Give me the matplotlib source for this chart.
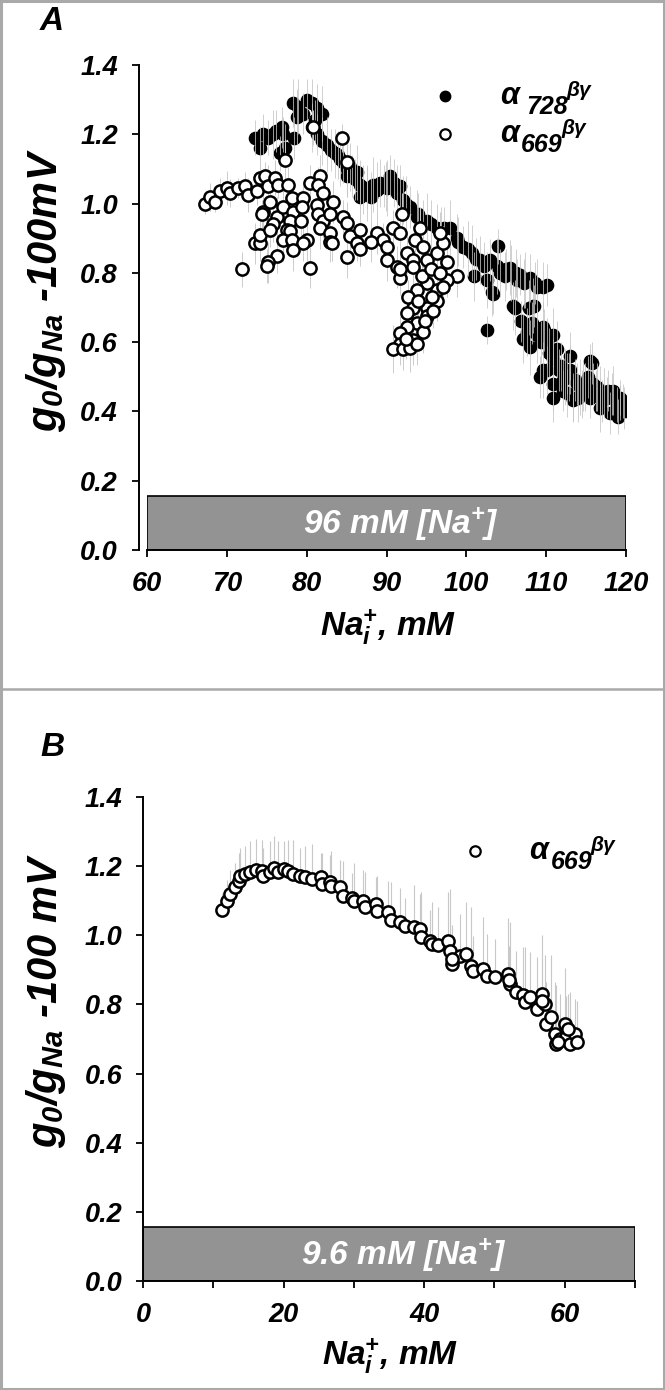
import matplotlib
matplotlib.use("Agg")
import matplotlib.pyplot as plt
from matplotlib.patches import Rectangle
from matplotlib.lines import Line2D

# ---- panel A data (96 mM external Na+) ----
a728_x = [73.5, 74.5, 75.2, 75.8, 76.9, 77.0, 74.2, 76.7, 77.3, 78.4,
          78.3, 78.9, 80.0, 80.7, 78.8, 79.5, 81.3, 81.9, 81.0, 80.7,
          81.3, 81.9, 82.6, 83.0, 83.6, 84.2, 84.6, 85.4, 86.3, 85.7,
          86.7, 87.6, 88.3, 89.2, 90.5, 90.1, 88.0, 86.7, 91.3, 92.1,
          93.0, 93.8, 94.6, 85.1, 87.6, 89.9, 91.7, 95.1, 96.3, 97.2,
          98.0, 98.8, 99.6, 100.7, 101.7, 103.0, 104.0, 100.9, 102.6, 103.4,
          104.2, 105.5, 106.7, 108.0, 108.9, 110.1, 102.6, 105.9, 108.4, 108.2,
          107.1, 108.0, 109.7, 110.1, 111.4, 109.2, 110.1, 110.9, 112.1, 113.0,
          115.5, 110.9, 112.1, 113.4, 114.3, 115.9, 116.8, 117.6, 118.4, 119.3,
          119.0, 118.0, 116.8, 115.5, 120.1, 103.2, 106.1, 108.5, 109.6, 110.9,
          112.6, 113.0, 115.7, 109.6, 112.6, 113.4, 114.5, 117.0, 118.9, 96.8,
          83.9, 85.0, 86.0, 87.0, 88.8, 89.7, 91.0, 92.5, 94.0, 95.6,
          99.0, 100.2, 101.2, 102.2, 103.8, 105.0, 106.2, 107.4, 108.6, 109.6,
          111.6, 112.8, 113.8, 114.9, 116.2, 117.2, 118.2, 119.2, 119.8, 114.0,
          104.8, 105.6, 106.4, 107.2, 107.8, 106.8, 107.6, 108.8, 109.4, 110.4,
          110.8, 111.8, 112.4, 113.6, 114.6, 115.2, 116.4, 117.8, 119.6, 76.2]
a728_y = [1.19, 1.20, 1.19, 1.20, 1.22, 1.20, 1.16, 1.145, 1.16, 1.19,
          1.29, 1.28, 1.30, 1.29, 1.25, 1.26, 1.275, 1.26, 1.24, 1.22,
          1.20, 1.18, 1.17, 1.155, 1.145, 1.13, 1.12, 1.105, 1.09, 1.08,
          1.055, 1.045, 1.055, 1.06, 1.08, 1.045, 1.02, 1.02, 1.03, 1.01,
          0.99, 0.96, 0.94, 1.08, 1.03, 1.05, 1.05, 0.95, 0.93, 0.93,
          0.93, 0.90, 0.875, 0.857, 0.837, 0.837, 0.877, 0.79, 0.78, 0.74,
          0.80, 0.815, 0.795, 0.785, 0.76, 0.765, 0.635, 0.705, 0.705, 0.655,
          0.61, 0.585, 0.635, 0.60, 0.58, 0.50, 0.52, 0.48, 0.49, 0.52,
          0.545, 0.44, 0.46, 0.44, 0.47, 0.48, 0.46, 0.44, 0.46, 0.425,
          0.385, 0.395, 0.41, 0.44, 0.40, 0.745, 0.70, 0.705, 0.645, 0.62,
          0.51, 0.56, 0.54, 0.52, 0.453, 0.433, 0.45, 0.43, 0.42, 0.92,
          1.14, 1.10, 1.07, 1.04, 1.04, 1.05, 1.06, 1.00, 0.97, 0.94,
          0.89, 0.87, 0.84, 0.82, 0.82, 0.81, 0.80, 0.78, 0.77, 0.76,
          0.52, 0.50, 0.48, 0.47, 0.46, 0.455, 0.45, 0.44, 0.41, 0.44,
          0.79, 0.80, 0.78, 0.77, 0.70, 0.66, 0.63, 0.62, 0.60, 0.57,
          0.55, 0.53, 0.50, 0.49, 0.47, 0.50, 0.47, 0.46, 0.43, 1.21]
a728_err = [0.05, 0.06, 0.05, 0.07, 0.06, 0.05, 0.06, 0.05, 0.07, 0.06,
            0.07, 0.08, 0.06, 0.07, 0.08, 0.06, 0.07, 0.08, 0.06, 0.07,
            0.06, 0.07, 0.08, 0.06, 0.07, 0.08, 0.06, 0.07, 0.08, 0.06,
            0.07, 0.06, 0.08, 0.07, 0.06, 0.08, 0.07, 0.06, 0.08, 0.07,
            0.06, 0.08, 0.07, 0.06, 0.08, 0.07, 0.06, 0.08, 0.07, 0.06,
            0.08, 0.07, 0.06, 0.08, 0.07, 0.06, 0.05, 0.07, 0.08, 0.06,
            0.07, 0.08, 0.06, 0.07, 0.08, 0.06, 0.04, 0.07, 0.08, 0.06,
            0.07, 0.08, 0.06, 0.07, 0.08, 0.06, 0.07, 0.08, 0.06, 0.07,
            0.05, 0.07, 0.06, 0.07, 0.08, 0.06, 0.07, 0.06, 0.07, 0.05,
            0.05, 0.06, 0.07, 0.06, 0.05, 0.07, 0.08, 0.06, 0.07, 0.08,
            0.06, 0.07, 0.06, 0.08, 0.07, 0.06, 0.07, 0.06, 0.05, 0.07,
            0.07, 0.08, 0.06, 0.07, 0.08, 0.06, 0.07, 0.08, 0.06, 0.07,
            0.07, 0.08, 0.06, 0.07, 0.08, 0.06, 0.07, 0.08, 0.06, 0.07,
            0.06, 0.07, 0.06, 0.07, 0.06, 0.07, 0.06, 0.05, 0.06, 0.07,
            0.07, 0.08, 0.06, 0.07, 0.08, 0.06, 0.07, 0.08, 0.06, 0.07,
            0.06, 0.07, 0.08, 0.06, 0.07, 0.06, 0.07, 0.06, 0.05, 0.06]

a669_x = [67.3, 67.9, 68.5, 69.1, 70.0, 70.4, 71.4, 72.3, 72.7, 73.8,
          74.2, 74.8, 75.2, 76.0, 76.4, 77.7, 74.5, 75.4, 74.4, 76.3,
          75.8, 77.0, 78.2, 79.5, 78.3, 79.4, 77.9, 79.3, 77.5, 77.9,
          77.0, 78.2, 80.0, 79.5, 73.5, 74.2, 74.2, 75.4, 78.3, 76.3,
          75.2, 75.0, 80.4, 71.9, 80.4, 81.7, 81.4, 82.0, 80.8, 84.4,
          85.0, 77.3, 81.3, 81.4, 82.0, 83.3, 82.9, 81.7, 82.9, 82.9,
          84.6, 85.0, 85.4, 86.7, 86.3, 85.0, 86.7, 88.8, 89.6, 90.1,
          90.8, 91.9, 91.7, 91.3, 91.7, 92.6, 93.3, 94.2, 93.6, 94.6,
          83.2, 90.1, 91.7, 93.3, 95.1, 96.3, 97.1, 96.7, 97.6, 98.8,
          97.6, 96.3, 95.1, 93.8, 92.7, 96.3, 95.1, 93.3, 92.6, 95.1,
          93.8, 92.6, 91.7, 94.6, 93.3, 91.7, 90.8, 92.1, 93.0, 93.8,
          95.8, 95.7, 97.1, 94.4, 95.6, 94.0, 94.8, 92.4, 96.7, 88.0]
a669_y = [1.00, 1.02, 1.005, 1.035, 1.045, 1.03, 1.045, 1.05, 1.025, 1.035,
          1.075, 1.08, 1.05, 1.075, 1.055, 1.055, 0.975, 1.005, 0.97, 0.96,
          0.94, 0.99, 1.015, 1.015, 0.975, 0.99, 0.95, 0.95, 0.925, 0.92,
          0.895, 0.895, 0.895, 0.885, 0.885, 0.885, 0.91, 0.925, 0.865, 0.85,
          0.83, 0.82, 0.815, 0.81, 1.06, 1.08, 1.055, 1.03, 1.22, 1.19,
          1.12, 1.125, 0.995, 0.97, 0.95, 1.005, 0.97, 0.93, 0.915, 0.89,
          0.96, 0.945, 0.905, 0.925, 0.885, 0.845, 0.87, 0.915, 0.895, 0.837,
          0.93, 0.97, 0.915, 0.817, 0.785, 0.857, 0.837, 0.93, 0.895, 0.875,
          0.885, 0.875, 0.81, 0.817, 0.837, 0.857, 0.885, 0.915, 0.83, 0.79,
          0.78, 0.75, 0.77, 0.75, 0.73, 0.72, 0.70, 0.70, 0.685, 0.675,
          0.655, 0.645, 0.625, 0.63, 0.605, 0.595, 0.58, 0.58, 0.583, 0.595,
          0.69, 0.73, 0.76, 0.79, 0.81, 0.72, 0.66, 0.61, 0.80, 0.89]
a669_err = [0.03, 0.04, 0.03, 0.04, 0.05, 0.04, 0.03, 0.04, 0.05, 0.04,
            0.05, 0.04, 0.06, 0.05, 0.04, 0.05, 0.06, 0.05, 0.04, 0.06,
            0.05, 0.06, 0.05, 0.04, 0.06, 0.05, 0.06, 0.05, 0.06, 0.05,
            0.06, 0.05, 0.06, 0.05, 0.06, 0.05, 0.06, 0.05, 0.06, 0.05,
            0.06, 0.05, 0.06, 0.05, 0.05, 0.06, 0.05, 0.06, 0.05, 0.04,
            0.05, 0.06, 0.05, 0.06, 0.05, 0.06, 0.05, 0.06, 0.05, 0.06,
            0.05, 0.06, 0.05, 0.06, 0.05, 0.06, 0.05, 0.06, 0.05, 0.06,
            0.05, 0.06, 0.05, 0.06, 0.05, 0.06, 0.05, 0.06, 0.05, 0.06,
            0.05, 0.06, 0.05, 0.06, 0.05, 0.06, 0.05, 0.06, 0.05, 0.06,
            0.05, 0.06, 0.05, 0.06, 0.05, 0.06, 0.05, 0.06, 0.05, 0.06,
            0.05, 0.06, 0.05, 0.06, 0.07, 0.06, 0.07, 0.06, 0.07, 0.06,
            0.05, 0.06, 0.05, 0.06, 0.05, 0.06, 0.05, 0.06, 0.05, 0.06]

# ---- panel B data (9.6 mM external Na+) ----
b669_x = [11.3, 11.9, 12.4, 13.1, 13.6, 13.8, 14.5, 15.2, 16.1, 16.9,
          17.1, 18.1, 18.6, 19.2, 20.1, 20.6, 21.3, 22.3, 23.0, 24.0,
          25.3, 25.4, 26.6, 26.8, 28.0, 28.5, 29.7, 30.0, 31.3, 31.6,
          33.2, 33.3, 34.9, 35.3, 36.6, 37.3, 38.5, 39.4, 39.6, 40.8,
          41.1, 42.0, 43.4, 43.7, 43.9, 45.1, 46.0, 46.7, 47.0, 48.4,
          48.9, 50.1, 52.0, 52.2, 53.1, 54.1, 54.3, 55.1, 56.0, 56.7,
          57.2, 57.3, 58.1, 58.6, 58.8, 59.3, 60.0, 60.2, 60.7, 61.5,
          61.7, 44.0, 52.1, 56.8, 59.0, 60.5]
b669_y = [1.073, 1.10, 1.12, 1.14, 1.158, 1.172, 1.177, 1.182, 1.189, 1.187,
          1.172, 1.182, 1.196, 1.182, 1.192, 1.185, 1.177, 1.172, 1.168, 1.163,
          1.169, 1.148, 1.153, 1.143, 1.139, 1.114, 1.109, 1.10, 1.10, 1.082,
          1.09, 1.071, 1.066, 1.044, 1.038, 1.028, 1.025, 1.018, 0.994, 0.984,
          0.975, 0.973, 0.984, 0.955, 0.917, 0.941, 0.946, 0.912, 0.898, 0.903,
          0.883, 0.879, 0.889, 0.859, 0.835, 0.826, 0.806, 0.821, 0.787, 0.831,
          0.802, 0.744, 0.763, 0.715, 0.686, 0.701, 0.744, 0.705, 0.686, 0.715,
          0.691, 0.93, 0.87, 0.81, 0.69, 0.73]
b669_err = [0.05, 0.06, 0.07, 0.07, 0.08, 0.08, 0.08, 0.09, 0.09, 0.09,
            0.08, 0.09, 0.09, 0.09, 0.08, 0.09, 0.10, 0.08, 0.09, 0.10,
            0.07, 0.09, 0.08, 0.10, 0.08, 0.10, 0.07, 0.11, 0.09, 0.10,
            0.08, 0.10, 0.09, 0.11, 0.10, 0.08, 0.12, 0.10, 0.13, 0.09,
            0.12, 0.11, 0.14, 0.18, 0.10, 0.12, 0.15, 0.17, 0.10, 0.15,
            0.12, 0.11, 0.16, 0.18, 0.12, 0.14, 0.16, 0.13, 0.15, 0.17,
            0.14, 0.12, 0.18, 0.15, 0.17, 0.13, 0.16, 0.12, 0.15, 0.10,
            0.12, 0.10, 0.10, 0.12, 0.08, 0.10]

a_xticks = [60, 70, 80, 90, 100, 110, 120]
b_xticks = [0, 10, 20, 30, 40, 50, 60, 70]
b_xticklabels = ['0', '', '20', '', '40', '', '60', '']
yticks = [0.0, 0.2, 0.4, 0.6, 0.8, 1.0, 1.2, 1.4]
band_a = (60, 120, 0.155)
band_b = (0, 70, 0.155)

plt.rcParams['font.family'] = 'Liberation Sans'
plt.rcParams['font.weight'] = 'bold'
plt.rcParams['font.style'] = 'italic'
plt.rcParams['mathtext.fontset'] = 'custom'
plt.rcParams['mathtext.rm'] = 'Liberation Sans:bold:italic'
plt.rcParams['mathtext.it'] = 'Liberation Sans:italic'
plt.rcParams['mathtext.bf'] = 'Liberation Sans:bold'
plt.rcParams['mathtext.bfit'] = 'Liberation Sans:bold:italic'

fig = plt.figure(figsize=(6.65, 13.9), dpi=100)
W, H = 665, 1390
MS = 8.8


def px_axes(x0, x1, y_top, y_bot):
    return fig.add_axes([x0 / W, 1 - y_bot / H, (x1 - x0) / W, (y_bot - y_top) / H])


def style_axes(ax, xlim, xticks, xlabels, offset):
    ax.set_xlim(*xlim)
    ax.set_ylim(0, 1.4)
    for s in ['top', 'right']:
        ax.spines[s].set_visible(False)
    ax.spines['left'].set_linewidth(1.4)
    ax.spines['bottom'].set_linewidth(1.4)
    ax.spines['left'].set_position(('outward', offset))
    ax.spines['left'].set_bounds(0, 1.4)
    ax.set_xticks(xticks)
    ax.set_xticklabels(xlabels)
    ax.set_yticks(yticks)
    ax.set_yticklabels(['%.1f' % v for v in yticks])
    ax.tick_params(direction='out', length=5, width=1.3, labelsize=19.5)
    ax.tick_params(axis='y', pad=10)
    ax.tick_params(axis='x', pad=10)
    for lbl in ax.get_xticklabels() + ax.get_yticklabels():
        lbl.set_fontweight('bold')
        lbl.set_fontstyle('italic')


def draw_band(ax, band, label):
    x0, x1, h = band
    ax.bar(x0, h, width=x1 - x0, align='edge', color='#939393',
           edgecolor='black', linewidth=1.2, zorder=1)
    ax.text(0.5 * (x0 + x1) + (x1 - x0) * 0.03, h * 0.48, label, color='white',
            fontsize=24, ha='center', va='center', zorder=2)


def subunit_label(ax, x, y, num, num_dx, sup_dx):
    kw = dict(xy=(x, y), textcoords='offset points', ha='left', va='center',
              fontweight='bold', fontstyle='italic', annotation_clip=False)
    ax.annotate('\u03b1', xytext=(0, 0), fontsize=22, **kw)
    ax.annotate(num, xytext=(num_dx, -8), fontsize=18, **kw)
    ax.annotate('\u03b2\u03b3', xytext=(sup_dx, 4), fontsize=15, **kw)


# ---- panel A ----
axA = px_axes(147, 626, 65, 550)
style_axes(axA, (60, 120), a_xticks, [str(v) for v in a_xticks], 6)
draw_band(axA, band_a, r'96 mM [Na$^{\mathbfit{+}}$]')
axA.plot(a728_x, a728_y, 'o', ms=MS, mfc='black', mec='black', zorder=3)
axA.errorbar(a728_x, a728_y, yerr=a728_err, fmt='none', ecolor='#c4c4c4',
             elinewidth=0.7, alpha=0.8, zorder=4)
axA.errorbar(a669_x, a669_y, yerr=a669_err, fmt='none', ecolor='#cccccc',
             elinewidth=0.7, zorder=4)
axA.plot(a669_x, a669_y, 'o', ms=MS, mfc='white', mec='black', mew=1.8, zorder=5)
axA.plot([97.3], [1.31], 'o', ms=7.5, mfc='black', mec='black', clip_on=False)
axA.plot([97.3], [1.20], 'o', ms=7.5, mfc='white', mec='black', mew=1.6, clip_on=False)
subunit_label(axA, 104.2, 1.31, '728', 19, 48)
subunit_label(axA, 104.2, 1.20, '669', 15, 44)

# ---- panel B ----
axB = px_axes(143, 635, 797, 1281)
style_axes(axB, (0, 70), b_xticks, b_xticklabels, 0)
draw_band(axB, band_b, r'9.6 mM [Na$^{\mathbfit{+}}$]')
axB.errorbar(b669_x, b669_y, yerr=[[0] * len(b669_err), b669_err], fmt='none',
             ecolor='#c8c8c8', elinewidth=0.8, zorder=2)
axB.plot(b669_x, b669_y, 'o', ms=MS, mfc='white', mec='black', mew=1.8, zorder=5)
axB.plot([47.2], [1.245], 'o', ms=7.5, mfc='white', mec='black', mew=1.6, clip_on=False)
subunit_label(axB, 55.0, 1.245, '669', 15, 44)

# ---- labels ----
fig.text(52 / W, 1 - 22 / H, 'A', fontsize=24, ha='center', va='center')
fig.text(52 / W, 1 - 748 / H, 'B', fontsize=24, ha='center', va='center')
fig.text(46 / W, 1 - 290 / H,
         r'$\mathbfit{g}_{\mathbfit{0}}\mathbfit{/g}_{\mathbfit{Na}}$ -100mV',
         fontsize=30, rotation=90, ha='center', va='center')
fig.text(46 / W, 1 - 1000 / H,
         r'$\mathbfit{g}_{\mathbfit{0}}\mathbfit{/g}_{\mathbfit{Na}}$ -100 mV',
         fontsize=30, rotation=90, ha='center', va='center')
fig.text(388 / W, 1 - 627 / H, r'$\mathbfit{Na}^{\mathbfit{+}}_{\mathbfit{i}}$, mM',
         fontsize=24, ha='center', va='center')
fig.text(390 / W, 1 - 1356 / H, r'$\mathbfit{Na}^{\mathbfit{+}}_{\mathbfit{i}}$, mM',
         fontsize=24, ha='center', va='center')

# frame and separator
fig.add_artist(Rectangle((0.0015, 0.001), 0.997, 0.998, transform=fig.transFigure,
                         fill=False, edgecolor='#a9a9a9', linewidth=2.2))
fig.add_artist(Line2D([0, 1], [1 - 689 / H, 1 - 689 / H], transform=fig.transFigure,
                      color='#a9a9a9', linewidth=1.8))

fig.savefig('out.png', dpi=100)
